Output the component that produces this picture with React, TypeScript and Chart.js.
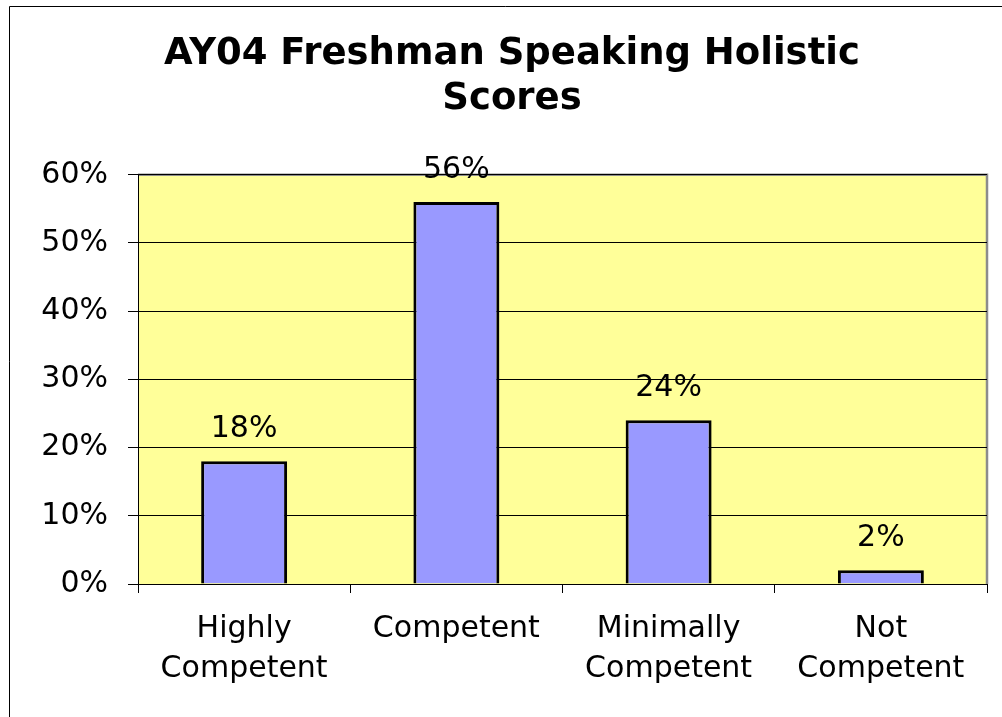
import React, { useEffect, useRef } from 'react';
import { Chart, registerables } from 'chart.js';

Chart.register(...registerables);

const TITLE_LINES = ['AY04 Freshman Speaking Holistic', 'Scores'];
const CATEGORIES = [['Highly', 'Competent'], ['Competent'], ['Minimally', 'Competent'], ['Not', 'Competent']];
const VALUES = [18, 56, 24, 2];
const Y_MIN = 0;
const Y_MAX = 60;
const Y_STEP = 10;

const FONT = 'DejaVu Sans';

const backgroundPlugin = {
  id: 'bgPlugin',
  beforeDraw(chart: any) {
    const { ctx, chartArea: a, width, height } = chart;
    ctx.save();
    ctx.fillStyle = '#ffffff';
    ctx.fillRect(0, 0, width, height);
    ctx.fillStyle = '#FFFF99';
    ctx.fillRect(a.left, a.top, a.right - a.left, a.bottom - a.top);
    ctx.strokeStyle = '#8c8c8c';
    ctx.lineWidth = 2.5;
    ctx.beginPath();
    ctx.moveTo(a.left, a.top);
    ctx.lineTo(a.right, a.top);
    ctx.lineTo(a.right, a.bottom);
    ctx.stroke();
    ctx.restore();
  },
  afterDraw(chart: any) {
    const { ctx, width, height } = chart;
    ctx.save();
    ctx.strokeStyle = '#000000';
    ctx.lineWidth = 1;
    ctx.beginPath();
    ctx.moveTo(9.5, height);
    ctx.lineTo(9.5, 6.5);
    ctx.lineTo(width, 6.5);
    ctx.stroke();
    ctx.restore();
  },
};

const valueLabelPlugin = {
  id: 'valueLabels',
  afterDatasetsDraw(chart: any) {
    const { ctx } = chart;
    const meta = chart.getDatasetMeta(0);
    ctx.save();
    ctx.fillStyle = '#000000';
    ctx.font = `30px "${FONT}"`;
    ctx.textAlign = 'center';
    ctx.textBaseline = 'middle';
    meta.data.forEach((bar: any, i: number) => {
      ctx.fillText(`${VALUES[i]}%`, bar.x, bar.y - 32);
    });
    ctx.restore();
  },
};

export default function App() {
  const canvasRef = useRef<HTMLCanvasElement | null>(null);

  useEffect(() => {
    const canvas = canvasRef.current;
    if (!canvas) return;
    const chart = new Chart(canvas, {
      type: 'bar',
      data: {
        labels: CATEGORIES,
        datasets: [
          {
            data: VALUES,
            backgroundColor: '#9999FF',
            borderColor: '#000000',
            borderWidth: 3,
            categoryPercentage: 1,
            barPercentage: 0.405,
          },
        ],
      },
      options: {
        responsive: false,
        animation: false,
        devicePixelRatio: 1,
        layout: { padding: { left: 37, right: 15, top: 0, bottom: 13 } },
        font: { family: FONT },
        plugins: {
          legend: { display: false },
          tooltip: { enabled: false },
          title: {
            display: true,
            text: TITLE_LINES,
            color: '#000000',
            font: { family: FONT, size: 37, weight: 'bold', lineHeight: 1.24 },
            padding: { top: 31, bottom: 52 },
          },
        },
        scales: {
          x: {
            grid: {
              offset: true,
              drawOnChartArea: false,
              drawTicks: true,
              tickLength: 9,
              color: '#000000',
            },
            border: { color: '#000000', width: 1 },
            ticks: {
              color: '#000000',
              font: { family: FONT, size: 30, lineHeight: 1.333 },
              padding: 16.5,
              maxRotation: 0,
              autoSkip: false,
            },
            afterFit(scale: any) {
              scale.height = 120;
            },
          },
          y: {
            min: Y_MIN,
            max: Y_MAX,
            grid: {
              color: '#000000',
              lineWidth: 1,
              drawTicks: true,
              tickLength: 10,
            },
            border: { color: '#000000', width: 1 },
            ticks: {
              stepSize: Y_STEP,
              color: '#000000',
              font: { family: FONT, size: 30 },
              padding: 20,
              callback: (v: any) => `${v}%`,
            },
            afterFit(scale: any) {
              scale.width = 101;
            },
          },
        },
      },
      plugins: [backgroundPlugin, valueLabelPlugin],
    });
    return () => chart.destroy();
  }, []);

  return (
    <div style={{ position: 'absolute', left: 0, top: 0, width: 1002, height: 717 }}>
      <canvas ref={canvasRef} width={1002} height={717} style={{ display: 'block' }} />
    </div>
  );
}
